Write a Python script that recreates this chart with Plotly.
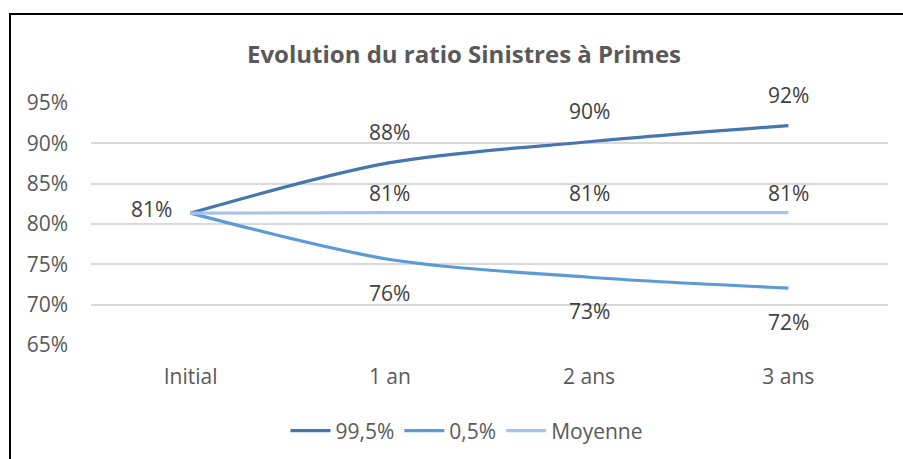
import plotly.graph_objects as go

# Categories and series values (ratio in %)
categories = ["Initial", "1 an", "2 ans", "3 ans"]
series_names = ["99,5%", "0,5%", "Moyenne"]
q995 = [81.35, 87.6, 90.2, 92.2]
q005 = [81.35, 75.6, 73.4, 72.05]
mean = [81.35, 81.4, 81.4, 81.4]
y_ticks = [65, 70, 75, 80, 85, 90, 95]

colors = ["#4676AD", "#5B9BD5", "#A6C4EA"]
series = [q995, q005, mean]

FONT = "Open Sans"
W, H = 903, 459
L, R, T, B = 91, 15, 103, 114

fig = go.Figure()
for name, vals, col in zip(series_names, series, colors):
    fig.add_trace(go.Scatter(
        x=categories, y=vals, name=name, mode="lines",
        line=dict(color=col, width=3.2, shape="spline", smoothing=0.9),
        hoverinfo="skip",
    ))

# data labels: above for the upper quantile and the mean, below for the lower quantile
label_font = dict(family=FONT, size=21, color="#404040")
shifts = [31, -34, 20]
for vals, dy in zip(series, shifts):
    for cat, v in list(zip(categories, vals))[1:]:
        fig.add_annotation(x=cat, y=v, text=f"{round(v):.0f}%", showarrow=False,
                           yshift=dy, font=label_font)
# shared starting point label, to the left of the point
fig.add_annotation(x=categories[0], y=q995[0], text=f"{round(q995[0]):.0f}%",
                   showarrow=False, xshift=-39, yshift=4, font=label_font)

pw = W - L - R
ph = H - T - B
fig.add_shape(type="rect", xref="paper", yref="paper",
              x0=(10 - L) / pw, x1=(W + 20 - L) / pw,
              y0=(T + ph - (H + 20)) / ph, y1=(T + ph - 14) / ph,
              line=dict(color="black", width=2), fillcolor="rgba(0,0,0,0)",
              layer="below")

fig.update_layout(
    width=W, height=H,
    margin=dict(l=L, r=R, t=T, b=B, autoexpand=False),
    paper_bgcolor="white", plot_bgcolor="white",
    font=dict(family=FONT, size=21, color="#595959"),
    title=dict(text="<b>Evolution du ratio Sinistres à Primes</b>",
               x=464 / W, xref="container", xanchor="center",
               y=1 - 55 / H, yref="container", yanchor="middle",
               font=dict(family=FONT, size=24, color="#595959")),
    showlegend=True,
    legend=dict(orientation="h", x=(467 - L) / pw, xanchor="center",
                y=(T + ph - 431) / ph, yanchor="middle",
                font=dict(family=FONT, size=21, color="#595959"),
                itemwidth=40, bgcolor="rgba(0,0,0,0)"),
    xaxis=dict(type="category", range=[-0.5, 3.5], showgrid=False,
               showline=False, zeroline=False, ticks="",
               ticklabelstandoff=17, tickfont=dict(size=21, color="#595959")),
    yaxis=dict(range=[65, 95], tickvals=y_ticks,
               ticktext=[f"{v}%" for v in y_ticks],
               showgrid=True, gridcolor="#D9D9D9", gridwidth=1.5,
               zeroline=False, showline=False, ticks="",
               ticklabelstandoff=22, tickfont=dict(size=21, color="#595959")),
)

fig.write_html("out.html")
